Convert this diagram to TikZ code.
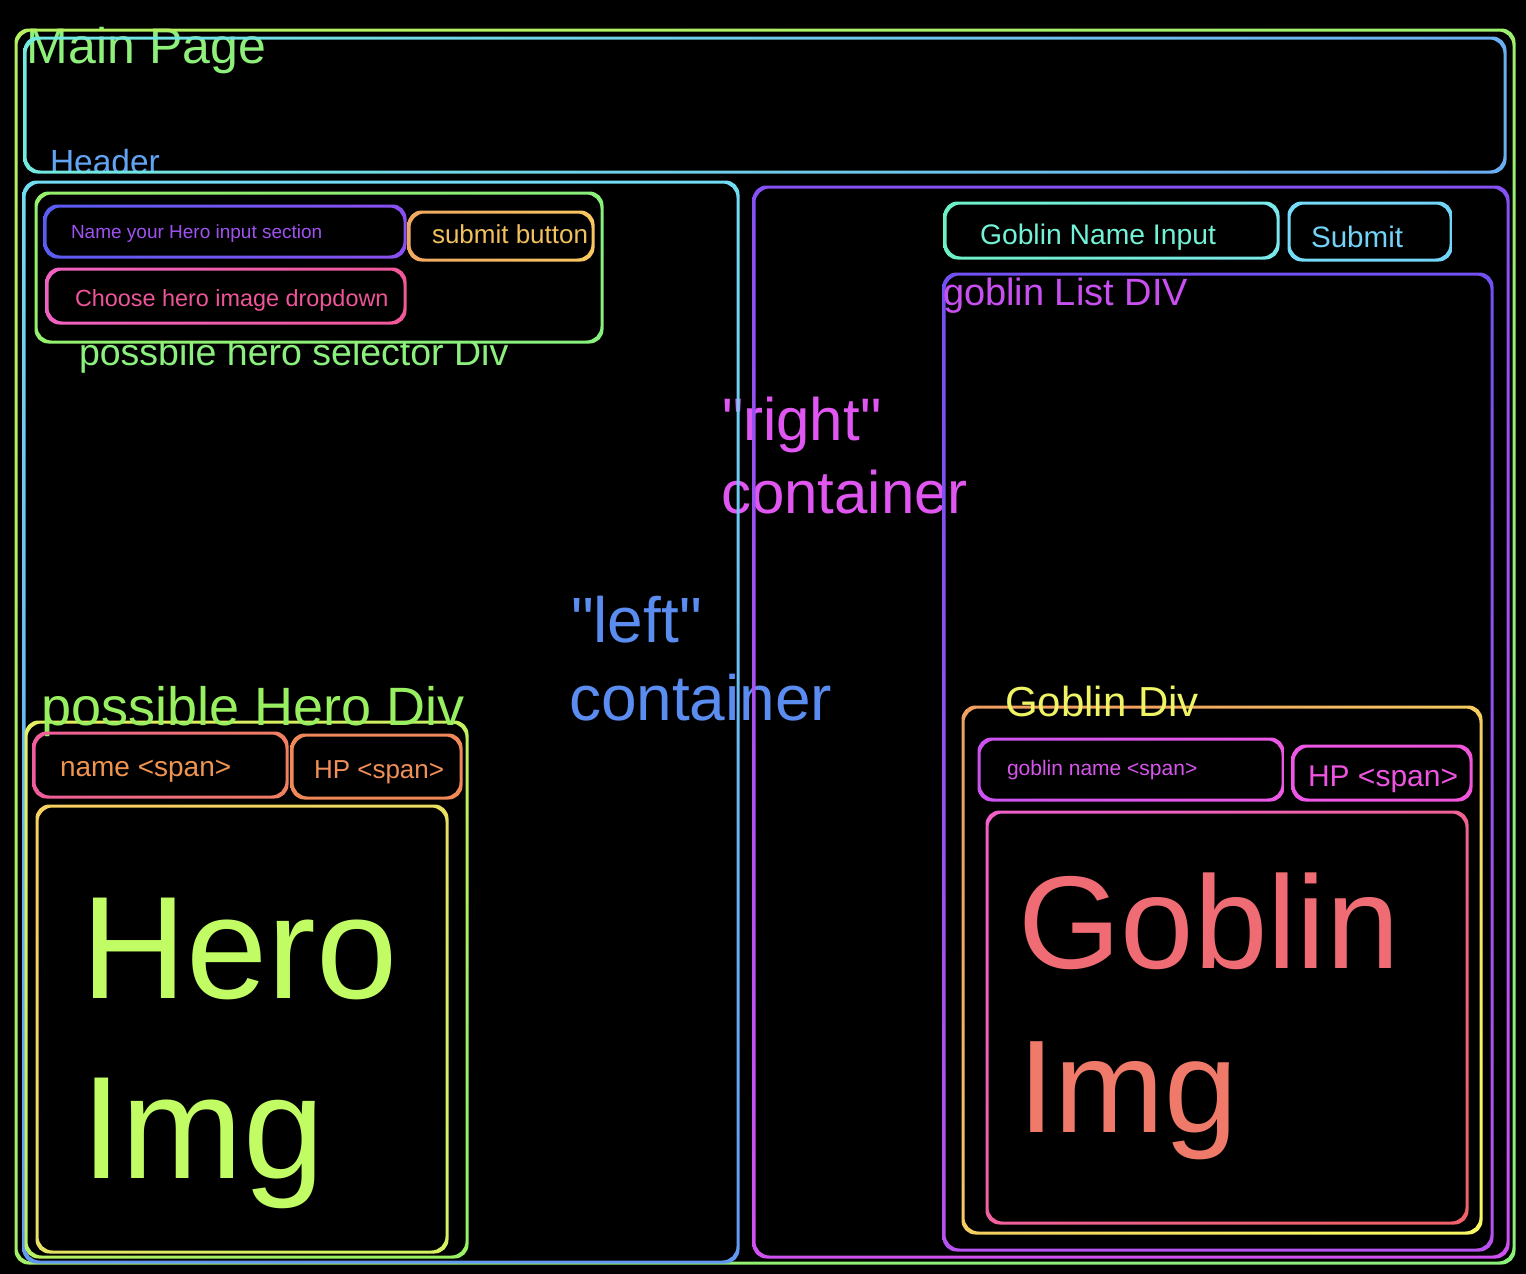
\documentclass[tikz,border=0pt]{standalone}
\usepackage{fontspec}
\setmainfont{Liberation Sans}
\newfontfamily\plainq{Liberation Sans}
\definecolor{tMain}{HTML}{8EF07A}
\definecolor{tHeader}{HTML}{62A4F2}
\definecolor{tNameIn}{HTML}{A052F0}
\definecolor{tSubmitBtn}{HTML}{F2C05E}
\definecolor{tDrop}{HTML}{F0559A}
\definecolor{tSel}{HTML}{8CF07E}
\definecolor{tRight}{HTML}{E056F0}
\definecolor{tLeft}{HTML}{5B8CF0}
\definecolor{tGName}{HTML}{72F2D6}
\definecolor{tGSubmit}{HTML}{72D2F8}
\definecolor{tGList}{HTML}{C84FF0}
\definecolor{tGDiv}{HTML}{EEF464}
\definecolor{tGSpan}{HTML}{D656EC}
\definecolor{tGHP}{HTML}{EE54E0}
\definecolor{tGImg}{HTML}{F06C74}
\definecolor{tGImgB}{HTML}{F07A6A}
\definecolor{tHDiv}{HTML}{98F060}
\definecolor{tHSpan}{HTML}{F09550}
\definecolor{tHHP}{HTML}{F09058}
\definecolor{tHImg}{HTML}{C2FC64}
% gradient-stroked rounded box: x1 y1 x2 y2 colA colB angle
\newcommand{\gbox}[7]{%
  \definecolor{gboxA}{HTML}{#5}\definecolor{gboxB}{HTML}{#6}%
  \begin{scope}[even odd rule]
    \clip[rounded corners=14pt] ({#1-1.5},{#2-1.5}) rectangle ({#3+1.5},{#4+1.5})
      ({#3-1.5},{#2+1.5}) rectangle ({#1+1.5},{#4-1.5});
    \shade[top color=gboxA,bottom color=gboxB,shading angle=#7] ({#1-4},{#2-4}) rectangle ({#3+4},{#4+4});
  \end{scope}}
\newcommand{\fs}[1]{\fontsize{#1}{#1}\selectfont}
\begin{document}
\begin{tikzpicture}[x=1pt,y=-1pt,
  lbl/.style={anchor=base west,inner sep=0pt,outer sep=0pt}]
\useasboundingbox (0,0) rectangle (1526,1274);
\fill[black] (0,0) rectangle (1526,1274);

% large labels lying under the box outlines
\node[lbl,text=tMain,font={\fs{50}}] (tmain) at (27,63) {Main Page};
\node[lbl,text=tHeader,font={\fs{33.5}}] (theader) at (50,173) {Header};
\node[lbl,text=tSel,font={\fs{37.5}}] (tsel) at (79,365) {possbile hero selector Div};
\node[lbl,text=tRight,font={\plainq\fs{60}}] (tright1) at (722,440) {"right"};
\node[lbl,text=tRight,font={\fs{60}}] (tright2) at (721,513) {container};
\node[lbl,text=tLeft,font={\plainq\fs{64}}] (tleft1) at (571,642) {"left"};
\node[lbl,text=tLeft,font={\fs{64}}] (tleft2) at (569,720) {container};

% outer boxes
\gbox{16}{30}{1514}{1263}{B4F060}{8CF07A}{45}
\gbox{25}{38}{1505}{172}{72EAE0}{6AAEF2}{90}
\gbox{24}{182}{738}{1262}{72DCF2}{6298F2}{0}
\gbox{754}{187}{1508}{1257}{8650F2}{D052F0}{0}

% hero selector (opaque)
\fill[black,rounded corners=14pt] (36,193) rectangle (602,342);
\gbox{36}{193}{602}{342}{96F06C}{88F07C}{45}
\gbox{45}{206}{405}{257}{5A5CF2}{8A50F0}{90}
\gbox{409}{212}{593}{260}{F0A860}{F8C860}{90}
\gbox{47}{269}{405}{323}{F062C0}{F05898}{90}
\node[lbl,text=tNameIn,font={\fs{19}}] (tnamein) at (71,238) {Name your Hero input section};
\node[lbl,text=tSubmitBtn,font={\fs{26}}] (tsubmitbtn) at (432,243) {submit button};
\node[lbl,text=tDrop,font={\fs{23.4}}] (tdrop) at (75,306) {Choose hero image dropdown};

% goblin input row
\gbox{945}{203}{1278}{258}{6EF0C6}{7AE8EC}{90}
\gbox{1289}{203}{1451}{260}{74DCF8}{72D4F8}{90}
\node[lbl,text=tGName,font={\fs{28.3}}] (tgname) at (980,244) {Goblin Name Input};
\node[lbl,text=tGSubmit,font={\fs{29.6}}] (tgsubmit) at (1311,247) {Submit};

% goblin list
\gbox{944}{274}{1492}{1250}{7250F2}{B852F0}{0}
\node[lbl,text=tGList,font={\fs{38}}] (tglist) at (943,305) {goblin List DIV};

% goblin div
\gbox{963}{707}{1481}{1233}{F0A060}{F8F862}{45}
\node[lbl,text=tGDiv,font={\fs{42}}] (tgdiv) at (1005,716) {Goblin Div};
\gbox{979}{739}{1283}{800}{CC52F0}{EC58E4}{90}
\gbox{1293}{746}{1471}{800}{EE56E6}{F054D8}{90}
\node[lbl,text=tGSpan,font={\fs{21}}] (tgspan) at (1007,775) {goblin name <span>};
\node[lbl,text=tGHP,font={\fs{30}}] (tghp) at (1308,786) {HP <span>};
\gbox{987}{812}{1467}{1223}{F060C8}{F0626A}{45}
\node[lbl,text=tGImg,font={\fs{132}}] (tgimg1) at (1018,968) {Goblin};
\node[lbl,text=tGImgB,font={\fs{132}}] (tgimg2) at (1018,1132) {Img};

% possible hero div
\gbox{26}{722}{467}{1257}{E4F060}{98F062}{45}
\node[lbl,text=tHDiv,font={\fs{54}}] (thdiv) at (41,725) {possible Hero Div};
\gbox{34}{733}{287}{797}{F05C9C}{F08060}{90}
\gbox{292}{735}{461}{798}{F08858}{F08858}{90}
\node[lbl,text=tHSpan,font={\fs{28}}] (thspan) at (60,776) {name <span>};
\node[lbl,text=tHHP,font={\fs{26}}] (thhp) at (314,778) {HP <span>};
\gbox{37}{806}{447}{1252}{F8D060}{D4F262}{45}
\node[lbl,text=tHImg,font={\fs{146}}] (thimg1) at (81,998) {Hero};
\node[lbl,text=tHImg,font={\fs{146}}] (thimg2) at (81,1178) {Img};
\end{tikzpicture}
\end{document}
